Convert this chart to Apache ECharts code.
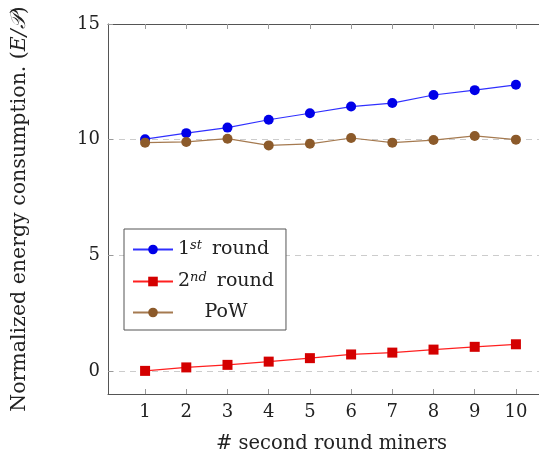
<!DOCTYPE html>
<html>
<head>
<meta charset="utf-8">
<script src="https://cdn.jsdelivr.net/npm/echarts@6/dist/echarts.min.js"></script>
<style>
  html, body { margin: 0; padding: 0; background: #fff; }
  #chart { width: 539px; height: 459px; }
</style>
</head>
<body>
<div id="chart"></div>
<script>
  var miners = [1, 2, 3, 4, 5, 6, 7, 8, 9, 10]
  var firstRound = [10.02, 10.28, 10.52, 10.86, 11.14, 11.43, 11.58, 11.93, 12.14, 12.37]
  var secondRound = [0.0, 0.15, 0.26, 0.40, 0.55, 0.71, 0.79, 0.92, 1.04, 1.15]
  var pow = [9.87, 9.90, 10.04, 9.75, 9.82, 10.07, 9.87, 9.98, 10.16, 10.00]
  var xTicks = [1, 2, 3, 4, 5, 6, 7, 8, 9, 10]
  var yTicks = [0, 5, 10, 15]

  var font = '"DejaVu Serif", "Liberation Serif", serif'
  var axisColor = '#555'

  function pairs(vals) {
    return vals.map(function (v, i) { return [miners[i], v] })
  }

  var chart = echarts.init(document.getElementById('chart'))
  var option = {
    animation: false,
    textStyle: { fontFamily: font, color: '#222' },
    // plot box is cut by the right edge of the picture, so x max stops short of 10.9
    grid: { left: 108, top: 24, right: 0, bottom: 64 },
    legend: {
      orient: 'vertical',
      left: 124,
      top: 229,
      padding: [10, 12, 8, 8],
      itemGap: 12,
      itemWidth: 40,
      itemHeight: 12,
      backgroundColor: '#fff',
      borderColor: axisColor,
      borderWidth: 1,
      data: ['first', 'second', 'pow'],
      formatter: function (name) {
        if (name === 'first') return '1{s|st} round'
        if (name === 'second') return '2{s|nd} round'
        return '{c|PoW}'
      },
      textStyle: {
        fontFamily: font,
        fontSize: 19,
        color: '#222',
        rich: {
          s: { fontFamily: font, fontSize: 13, fontStyle: 'italic', verticalAlign: 'top', padding: [0, 4, 8, 0] },
          c: { fontFamily: font, fontSize: 19, width: 96, align: 'center' }
        }
      }
    },
    xAxis: [{
      type: 'value',
      min: 0.1,
      max: 10.56,
      name: '# second round miners',
      nameLocation: 'middle',
      nameGap: 40,
      // centre the title on the full (uncut) plot box
      nameTextStyle: { fontFamily: font, fontSize: 19.5, color: '#222', padding: [0, 0, 0, 16] },
      axisLine: { show: true, onZero: false, lineStyle: { color: axisColor } },
      axisTick: { show: true, inside: true, length: 5, customValues: xTicks, lineStyle: { color: '#999' } },
      axisLabel: { customValues: xTicks, fontFamily: font, fontSize: 18, color: '#222', margin: 9 },
      splitLine: { show: false }
    }, {
      type: 'value',
      position: 'top',
      min: 0.1,
      max: 10.56,
      axisLine: { show: true, onZero: false, lineStyle: { color: axisColor } },
      axisTick: { show: true, inside: true, length: 5, customValues: xTicks, lineStyle: { color: '#999' } },
      axisLabel: { show: false },
      splitLine: { show: false }
    }],
    yAxis: {
      type: 'value',
      min: -1,
      max: 15,
      name: 'Normalized energy consumption. ({i|E/𝒫})',
      nameLocation: 'middle',
      nameGap: 78,
      nameTextStyle: {
        fontFamily: font, fontSize: 20.5, color: '#222',
        rich: { i: { fontFamily: font, fontSize: 20.5, fontStyle: 'italic', color: '#222' } }
      },
      axisLine: { show: true, onZero: false, lineStyle: { color: axisColor } },
      axisTick: { show: true, inside: true, length: 5, customValues: yTicks, lineStyle: { color: '#999' } },
      axisLabel: { customValues: yTicks, fontFamily: font, fontSize: 18, color: '#222', margin: 8 },
      splitLine: { show: true, lineStyle: { color: '#ccc', type: [6, 5] } }
    },
    series: [{
      name: 'first',
      type: 'line',
      data: pairs(firstRound),
      symbol: 'circle',
      symbolSize: 10,
      itemStyle: { color: '#0000e8' },
      lineStyle: { color: '#3030ff', width: 1.2 }
    }, {
      name: 'second',
      type: 'line',
      data: pairs(secondRound),
      symbol: 'rect',
      symbolSize: 10,
      itemStyle: { color: '#d40000' },
      lineStyle: { color: '#ff2020', width: 1.2 }
    }, {
      name: 'pow',
      type: 'line',
      data: pairs(pow),
      symbol: 'circle',
      symbolSize: 10,
      itemStyle: { color: '#8c5a2a' },
      lineStyle: { color: '#a57a50', width: 1.2 }
    }]
  }
  chart.setOption(option)
</script>
</body>
</html>
